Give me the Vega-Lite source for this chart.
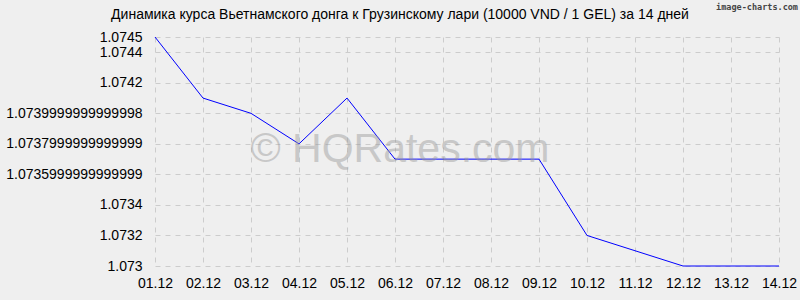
{
  "$schema": "https://vega.github.io/schema/vega-lite/v6.json",
  "width": 624,
  "height": 229,
  "autosize": {"type": "none"},
  "padding": {"left": 155, "top": 37, "right": 21, "bottom": 34},
  "background": "#efefef",
  "title": {
    "text": "Динамика курса Вьетнамского донга к Грузинскому лари (10000 VND / 1 GEL) за 14 дней",
    "font": "Liberation Sans",
    "fontSize": 14,
    "fontWeight": "normal",
    "color": "#000000",
    "anchor": "middle",
    "frame": "group",
    "dx": -67,
    "offset": -19
  },
  "config": {
    "view": {"stroke": null},
    "axis": {
      "labelFont": "Liberation Sans",
      "labelFontSize": 14,
      "labelColor": "#000000",
      "labelOverlap": false,
      "domain": false,
      "ticks": false,
      "grid": true,
      "gridColor": "#cccccc",
      "gridDash": [5, 5],
      "gridWidth": 1,
      "title": null
    }
  },
  "data": {
    "values": [
      {"date": "01.12", "rate": 1.0745},
      {"date": "02.12", "rate": 1.0741},
      {"date": "03.12", "rate": 1.0740},
      {"date": "04.12", "rate": 1.0738},
      {"date": "05.12", "rate": 1.0741},
      {"date": "06.12", "rate": 1.0737},
      {"date": "07.12", "rate": 1.0737},
      {"date": "08.12", "rate": 1.0737},
      {"date": "09.12", "rate": 1.0737},
      {"date": "10.12", "rate": 1.0732},
      {"date": "11.12", "rate": 1.0731},
      {"date": "12.12", "rate": 1.0730},
      {"date": "13.12", "rate": 1.0730},
      {"date": "14.12", "rate": 1.0730}
    ]
  },
  "layer": [
    {
      "mark": {"type": "line", "color": "#0000ff", "strokeWidth": 1},
      "encoding": {
        "x": {
          "field": "date",
          "type": "ordinal",
          "scale": {"type": "point", "padding": 0},
          "axis": {"labelAngle": 0, "labelPadding": 10, "grid": true}
        },
        "y": {
          "field": "rate",
          "type": "quantitative",
          "scale": {"domain": [1.073, 1.0745], "nice": false, "zero": false},
          "axis": {
            "values": [1.073, 1.0732, 1.0734, 1.0736, 1.0738, 1.074, 1.0742, 1.0744, 1.0745],
            "tickCount": 30,
            "labelPadding": 13,
            "labelOverlap": false,
            "grid": true,
            "labelExpr": "abs(datum.value-1.074)<1e-7 ? '1.0739999999999998' : abs(datum.value-1.0738)<1e-7 ? '1.0737999999999999' : abs(datum.value-1.0736)<1e-7 ? '1.0735999999999999' : format(datum.value, '.4~f')"
          }
        }
      }
    },
    {
      "data": {"values": [{"label": "© HQRates.com"}]},
      "mark": {
        "type": "text",
        "font": "Liberation Sans",
        "fontSize": 41,
        "color": "#999999",
        "opacity": 0.45,
        "align": "center",
        "baseline": "alphabetic",
        "dx": 5
      },
      "encoding": {
        "x": {"datum": "06.12"},
        "y": {"datum": 1.07368},
        "text": {"field": "label"}
      }
    },
    {
      "data": {"values": [{"label": "image-charts.com"}]},
      "mark": {
        "type": "text",
        "font": "DejaVu Sans Mono",
        "fontSize": 8.5,
        "fontWeight": "bold",
        "color": "#444444",
        "align": "right",
        "baseline": "alphabetic",
        "dx": 19,
        "dy": -27
      },
      "encoding": {
        "x": {"datum": "14.12"},
        "y": {"datum": 1.0745},
        "text": {"field": "label"}
      }
    }
  ]
}
